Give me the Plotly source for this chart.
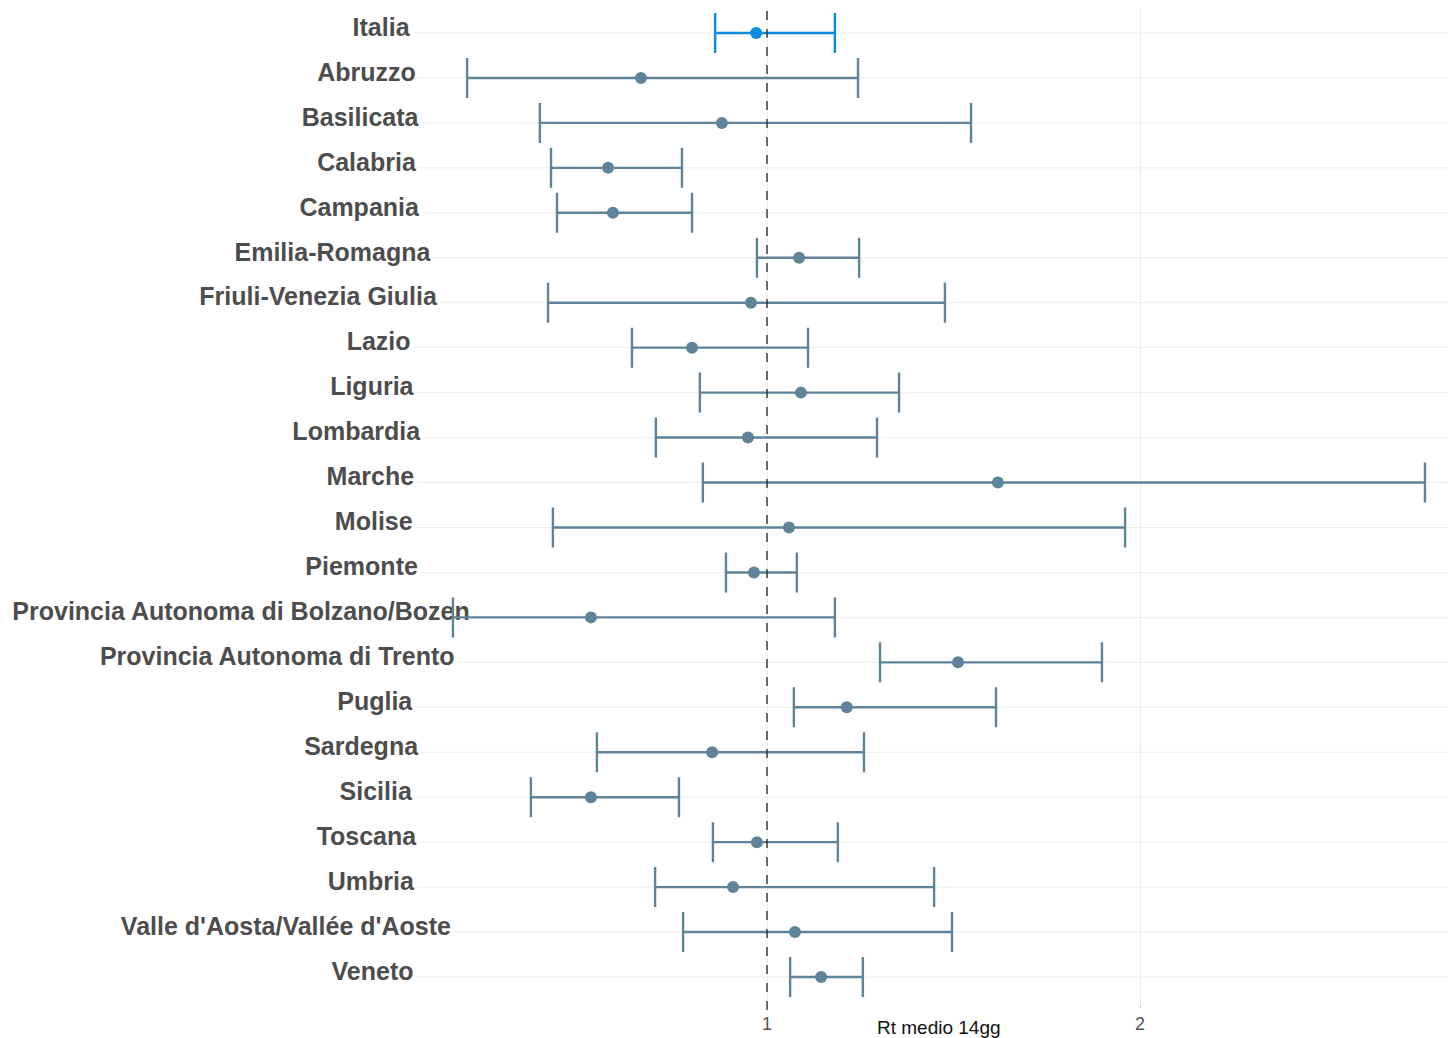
import plotly.graph_objects as go

regions = ["Italia", "Abruzzo", "Basilicata", "Calabria", "Campania", "Emilia-Romagna",
           "Friuli-Venezia Giulia", "Lazio", "Liguria", "Lombardia", "Marche", "Molise",
           "Piemonte", "Provincia Autonoma di Bolzano/Bozen", "Provincia Autonoma di Trento",
           "Puglia", "Sardegna", "Sicilia", "Toscana", "Umbria",
           "Valle d'Aosta/Vallée d'Aoste", "Veneto"]
rt_mean = [0.971, 0.662, 0.879, 0.574, 0.587, 1.086, 0.957, 0.799, 1.091, 0.949, 1.619, 1.059,
           0.965, 0.528, 1.512, 1.214, 0.853, 0.528, 0.973, 0.909, 1.075, 1.145]
rt_low = [0.861, 0.196, 0.391, 0.421, 0.437, 0.973, 0.413, 0.638, 0.820, 0.702, 0.828, 0.426,
          0.890, 0.158, 1.303, 1.072, 0.544, 0.367, 0.855, 0.700, 0.775, 1.062]
rt_high = [1.182, 1.244, 1.547, 0.772, 0.799, 1.247, 1.477, 1.110, 1.354, 1.295, 2.764, 1.960,
           1.080, 1.182, 1.898, 1.614, 1.260, 0.764, 1.190, 1.448, 1.496, 1.257]
x_ticks = [1, 2]
x_tick_labels = ["1", "2"]

OFF = 8                      # page body margin
W, H = 1456 - OFF, 1038 - OFF
# pixel geometry of the panel (figure coordinates)
PX0, PPU = 394.0 - OFF, 373.0   # pixel of x=0, pixels per unit
x_range = [(0 - PX0) / PPU, (W - PX0) / PPU]
top_px, bot_px = 6 - OFF + 2, 1004 - OFF
row0, rowN = 33.0 - OFF, 977.0 - OFF
n = len(regions)
sp = (rowN - row0) / (n - 1)
y_range = [(n - 1) + (bot_px - rowN) / sp, -(row0 - top_px) / sp]

# Arial/Liberation Sans Bold advance widths (per 1000 em)
AW = {' ': 278, 'a': 556, 'b': 611, 'c': 556, 'd': 611, 'e': 556, 'f': 333, 'g': 611, 'h': 611,
      'i': 278, 'j': 278, 'k': 556, 'l': 278, 'm': 889, 'n': 611, 'o': 611, 'p': 611, 'q': 611,
      'r': 389, 's': 556, 't': 333, 'u': 611, 'v': 556, 'w': 778, 'x': 556, 'y': 556, 'z': 500,
      'A': 722, 'B': 722, 'C': 722, 'D': 722, 'E': 667, 'F': 611, 'G': 778, 'H': 722, 'I': 278,
      'J': 556, 'K': 722, 'L': 611, 'M': 833, 'N': 722, 'O': 778, 'P': 667, 'Q': 778, 'R': 722,
      'S': 667, 'T': 611, 'U': 722, 'V': 667, 'W': 944, 'X': 667, 'Y': 667, 'Z': 611,
      '-': 333, '/': 278, "'": 238, 'é': 556}
FS = 25
def text_w(s):
    return sum(AW.get(c, 556) for c in s) * FS / 1000.0

LABEL_ANCHOR, HJUST = 401.0 - OFF, 0.85
label_right_px = [LABEL_ANCHOR + (1 - HJUST) * text_w(s) for s in regions]
label_x = [(p - PX0) / PPU for p in label_right_px]
label_y = [i - 3.5 / sp for i in range(n)]

BAR = "#5f8399"
BLUE = "#0b8ddc"

fig = go.Figure()

fig.add_trace(go.Scatter(
    x=label_x, y=label_y, mode="text", text=regions, textposition="middle left",
    textfont=dict(family="Liberation Sans, Arial, sans-serif", size=FS, color="#4d4d4d", weight="bold"),
    hoverinfo="skip", showlegend=False, cliponaxis=False))

idx = list(range(1, n))
fig.add_trace(go.Scatter(
    x=[rt_mean[i] for i in idx], y=idx, mode="markers",
    marker=dict(color=BAR, size=12),
    error_x=dict(type="data", symmetric=False,
                 array=[rt_high[i] - rt_mean[i] for i in idx],
                 arrayminus=[rt_mean[i] - rt_low[i] for i in idx],
                 color=BAR, thickness=2.4, width=20),
    showlegend=False))
fig.add_trace(go.Scatter(
    x=[rt_mean[0]], y=[0], mode="markers",
    marker=dict(color=BLUE, size=12),
    error_x=dict(type="data", symmetric=False,
                 array=[rt_high[0] - rt_mean[0]], arrayminus=[rt_mean[0] - rt_low[0]],
                 color=BLUE, thickness=2.4, width=20),
    showlegend=False))

shapes = []
for i, p in enumerate(label_right_px):
    shapes.append(dict(type="line", xref="paper", yref="y", x0=(p + 3) / W, x1=1, y0=i, y1=i,
                       line=dict(color="#ececec", width=1), layer="below"))
shapes.append(dict(type="line", xref="x", yref="paper", x0=1, x1=1, y0=-0.006, y1=1,
                   line=dict(color="#222222", width=1.3, dash="dash"), layer="above"))

fig.update_layout(
    width=W, height=H, plot_bgcolor="white", paper_bgcolor="white",
    margin=dict(l=0, r=0, t=top_px, b=H - bot_px),
    shapes=shapes,
    xaxis=dict(range=x_range, tickvals=x_ticks, ticktext=x_tick_labels, showgrid=True,
               gridcolor="#ececec", gridwidth=1, zeroline=False, showline=False,
               ticks="outside", ticklen=3, tickcolor="#cccccc",
               tickfont=dict(family="Liberation Sans, Arial, sans-serif", size=18, color="#555555")),
    yaxis=dict(range=y_range, showticklabels=False, showgrid=False, zeroline=False, showline=False),
    annotations=[dict(text="Rt medio 14gg", xref="paper", yref="paper",
                      x=(939 - OFF) / W, y=(bot_px - (1027 - OFF)) / (bot_px - top_px),
                      xanchor="center", yanchor="middle", showarrow=False,
                      font=dict(family="Liberation Sans, Arial, sans-serif", size=19, color="#111111"))],
)

fig.write_html("out.html")
